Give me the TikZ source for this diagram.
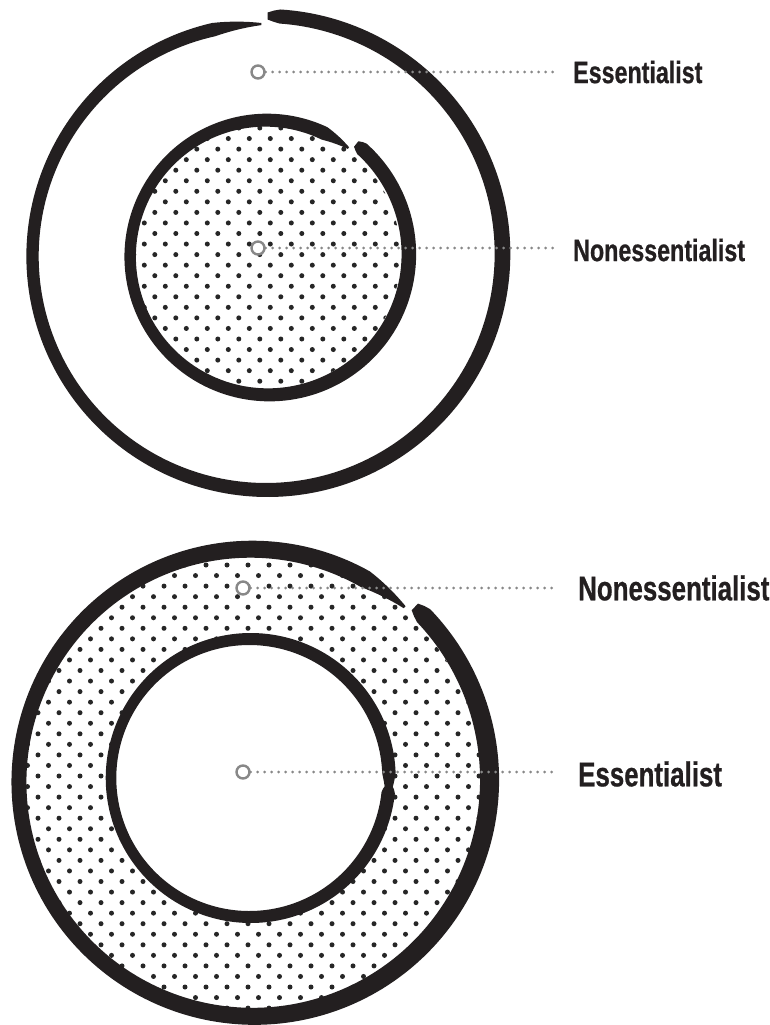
\documentclass[tikz,border=0pt]{standalone}
\usepackage{fontspec}
\newfontfamily\labelfont[FakeStretch=0.75, FakeBold=0.6]{Liberation Sans}
\usetikzlibrary{positioning}
\definecolor{ink}{HTML}{231F20}
\definecolor{dotink}{HTML}{262626}
\definecolor{hintgray}{HTML}{888888}

% brush ring: cx, cy, radius, width, tapered end angle, blunt end angle, drift
\newcommand{\brushring}[7]{%
  \fill[ink] plot[domain=#5:#6, samples=240, variable=\t]
    ({#1+(#3+#7*((\t-(#5))/((#6)-(#5))-0.5)+0.5*#4*(1+0.12*cos(\t))*min(1,0.15+(\t-(#5))/14,0.5+((#6)-\t)/5))*cos(\t)},
     {#2-(#3+#7*((\t-(#5))/((#6)-(#5))-0.5)+0.5*#4*(1+0.12*cos(\t))*min(1,0.15+(\t-(#5))/14,0.5+((#6)-\t)/5))*sin(\t)})
    -- plot[domain=#6:#5, samples=240, variable=\t]
    ({#1+(#3+#7*((\t-(#5))/((#6)-(#5))-0.5)-0.5*#4*(1+0.12*cos(\t))*min(1,0.15+(\t-(#5))/14,0.5+((#6)-\t)/5))*cos(\t)},
     {#2-(#3+#7*((\t-(#5))/((#6)-(#5))-0.5)-0.5*#4*(1+0.12*cos(\t))*min(1,0.15+(\t-(#5))/14,0.5+((#6)-\t)/5))*sin(\t)})
    -- cycle;}

\begin{document}
\begin{tikzpicture}[x=1pt, y=-1pt,
  hole/.style={circle, draw=hintgray, line width=2.4pt, fill=white, inner sep=0pt, minimum size=13pt},
  leader/.style={hintgray, line width=3pt, line cap=round, dash pattern=on 0pt off 7pt},
  lbl/.style={anchor=west, inner sep=0pt, text=ink, font=\labelfont\bfseries\fontsize{31}{32}\selectfont},
  biglbl/.style={lbl, font=\labelfont\bfseries\fontsize{34.5}{35}\selectfont}]

% Background
\fill[white] (0,0) rectangle (769,1025);
\useasboundingbox (0,0) rectangle (769,1025);

% Top: dotted core
\begin{scope}
  \clip (267.5,255.5) circle (133);
  \foreach \i in {0,...,27}{
    \foreach \j in {0,...,13}{
      \fill[dotink] ({112.8+21*\j+10.5*mod(\i,2)},{128+10.55*\i}) circle (2.5);
    }
  }
\end{scope}

% Top: rings
\brushring{265.5}{255}{235}{14}{-269}{89.5}{8}
\brushring{267.5}{255.5}{138.5}{13}{-307}{51.5}{8}

% Bottom: dotted band
\begin{scope}
  \clip (252.5,781) circle (228);
  \foreach \i in {0,...,46}{
    \foreach \j in {0,...,23}{
      \fill[dotink] ({17+21*\j+10.5*mod(\i,2)},{543.9+10.55*\i}) circle (2.5);
    }
  }
\end{scope}
\fill[white] (250,778) circle (139);

% Bottom: rings
\brushring{252.5}{781}{234.5}{17}{-311.2}{47}{7}
\brushring{250}{778}{139}{12}{-370}{-3}{0}

% Top labels
\node[hole] (essTopHole) at (258,72) {};
\node[lbl] (essTopLbl) at (573,72) {Essentialist};
\draw[leader, shorten >=18pt] (essTopHole) -- (essTopLbl.west);

\node[hole] (nonTopHole) at (258,248) {};
\node[lbl] (nonTopLbl) at (573,250) {Nonessentialist};
\draw[leader, shorten >=18pt] (nonTopHole) -- (nonTopLbl.west |- nonTopHole);

% Bottom labels
\node[hole] (nonBotHole) at (243,588) {};
\node[biglbl] (nonBotLbl) at (578,588) {Nonessentialist};
\draw[leader, shorten >=20pt] (nonBotHole) -- (nonBotLbl.west);

\node[hole] (essBotHole) at (243,772) {};
\node[biglbl] (essBotLbl) at (578,774) {Essentialist};
\draw[leader, shorten >=20pt] (essBotHole) -- (essBotLbl.west |- essBotHole);

\end{tikzpicture}
\end{document}
